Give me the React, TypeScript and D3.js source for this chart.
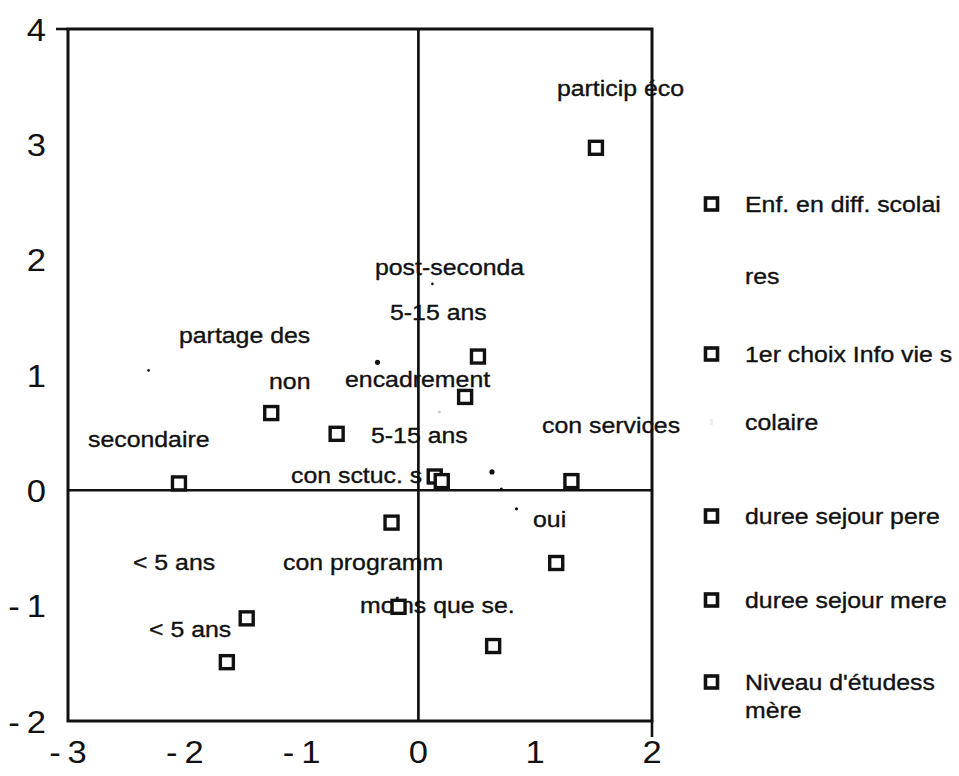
import React from "react";
import * as d3 from "d3";

// ---- data ----
const squareX = [1.52, 0.51, 0.40, -1.26, -0.70, -2.05, 0.14, 0.20, 1.31, -0.23, 1.18, -0.17, 0.64, -1.47, -1.64];
const squareY = [2.97, 1.16, 0.81, 0.67, 0.49, 0.06, 0.12, 0.08, 0.08, -0.28, -0.63, -1.01, -1.35, -1.11, -1.49];

const dotX = [-0.35, 0.63, 0.12, 0.71, 0.84, -2.31];
const dotY = [1.11, 0.16, 1.79, 0.01, -0.16, 1.04];
const dotR = [2.6, 2.6, 1.3, 1.6, 1.6, 1.3];

const labelText = [
  "particip éco", "post-seconda", "5-15 ans", "partage des", "non", "encadrement",
  "secondaire", "5-15 ans", "con services", "con sctuc. s", "oui", "< 5 ans",
  "con programm", "moins que se.", "< 5 ans",
];
const labelX = [1.186, -0.372, -0.243, -2.05, -1.279, -0.628, -2.829, -0.406, 1.058, -1.091, 0.981, -2.444, -1.159, -0.5, -2.306];
const labelY = [3.42, 1.865, 1.474, 1.275, 0.876, 0.893, 0.373, 0.408, 0.494, 0.061, -0.321, -0.694, -0.694, -1.067, -1.275];

const xTicks = [-3, -2, -1, 0, 1, 2];
const yTicks = [-2, -1, 0, 1, 2, 3, 4];

const legendNames = [
  ["Enf. en diff. scolai", "res"],
  ["1er choix Info vie s", "colaire"],
  ["duree sejour pere"],
  ["duree sejour mere"],
  ["Niveau d'étudess", "mère"],
];
const legendLineGap = [72, 68, 0, 0, 28];

const FONT = "'Liberation Sans', Arial, Helvetica, sans-serif";

export default function App() {
  const W = 959, H = 776;
  const x = d3.scaleLinear().domain([-3, 2]).range([68, 652]);
  const y = d3.scaleLinear().domain([-2, 4]).range([721, 29]);
  const fmt = (v: number) => (v < 0 ? "-\u2009" + Math.abs(v) : String(v));
  const sx = 1.13;
  const legendY = [204, 354, 516, 600, 682];

  return (
    <svg width={W} height={H} style={{ position: "absolute", left: 0, top: 0, background: "#fff" }}>
      <rect x={0} y={0} width={W} height={H} fill="#fff" />
      {/* frame */}
      <rect x={x(-3)} y={y(4)} width={x(2) - x(-3)} height={y(-2) - y(4)} fill="none" stroke="#111" strokeWidth={3} />
      <line x1={x(-3) - 12} x2={x(-3)} y1={y(4)} y2={y(4)} stroke="#111" strokeWidth={2.6} />
      <line x1={x(2)} x2={x(2)} y1={y(-2)} y2={y(-2) + 16} stroke="#111" strokeWidth={2.6} />
      {/* zero lines */}
      <line x1={x(-3)} x2={x(2)} y1={y(0)} y2={y(0)} stroke="#111" strokeWidth={2.5} />
      <line x1={x(0)} x2={x(0)} y1={y(4)} y2={y(-2)} stroke="#111" strokeWidth={2.7} />

      {/* tick labels */}
      {yTicks.map((t) => (
        <text key={"y" + t} transform={`translate(46,${y(t) + 11.5}) scale(1.08,1)`} textAnchor="end" fontFamily={FONT} fontSize={32} fill="#111">
          {fmt(t)}
        </text>
      ))}
      {xTicks.map((t) => (
        <text key={"x" + t} transform={`translate(${x(t)},763) scale(1.08,1)`} textAnchor="middle" fontFamily={FONT} fontSize={32} fill="#111">
          {fmt(t)}
        </text>
      ))}

      {/* labels */}
      {labelText.map((s, i) => (
        <text
          key={"l" + i}
          transform={`translate(${x(labelX[i])},${y(labelY[i])}) scale(${sx},1)`}
          fontFamily={FONT}
          fontSize={22}
          fill="#111"
          stroke="#111"
          strokeWidth={0.35}
        >
          {s}
        </text>
      ))}

      {/* dots */}
      {dotX.map((v, i) => (
        <circle key={"d" + i} cx={x(v)} cy={y(dotY[i])} r={dotR[i]} fill="#111" />
      ))}
      <circle cx={x(0.18)} cy={y(0.68)} r={1.5} fill="#ccc" />

      {/* squares */}
      {squareX.map((v, i) => (
        <rect
          key={"s" + i}
          x={x(v) - 6.5}
          y={y(squareY[i]) - 6.5}
          width={13}
          height={13}
          fill="#fff"
          stroke="#111"
          strokeWidth={3.4}
        />
      ))}

      {/* legend */}
      {legendNames.map((lines, i) => (
        <g key={"lg" + i}>
          <rect x={705.5} y={legendY[i] - 6} width={12} height={12} fill="#fff" stroke="#111" strokeWidth={3.6} />
          {lines.map((ln, j) => (
            <text
              key={j}
              transform={`translate(745,${legendY[i] + 8 + j * legendLineGap[i]}) scale(${sx},1)`}
              fontFamily={FONT}
              fontSize={22}
              fill="#111"
              stroke="#111"
              strokeWidth={0.35}
            >
              {ln}
            </text>
          ))}
        </g>
      ))}
      <rect x={710} y={419} width={3} height={6} fill="#eee" />
    </svg>
  );
}
